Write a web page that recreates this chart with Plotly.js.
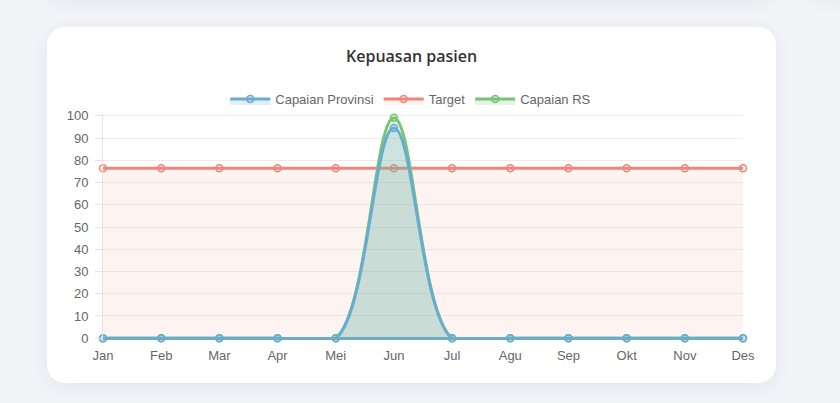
<!DOCTYPE html>
<html>
<head>
<meta charset="utf-8">
<script src="https://cdn.plot.ly/plotly-3.0.1.min.js"></script>
<style>
  html, body { margin: 0; padding: 0; background: #f3f4f8; }
  body { width: 840px; height: 403px; position: relative; overflow: hidden; }
  .card { position: absolute; background: #fff; border-radius: 18px;
          box-shadow: 0 4px 18px rgba(40, 50, 90, 0.08); }
  #myDiv { position: absolute; left: 0; top: 0; width: 840px; height: 403px; }
</style>
</head>
<body>
<div class="card" style="left:47px; top:-120px; width:729px; height:118px;"></div>
<div class="card" style="left:808px; top:-120px; width:300px; height:116px;"></div>
<div class="card" style="left:47px; top:27px; width:729px; height:356px;"></div>
<div id="myDiv"></div>
<script>
// bulan (label sumbu x)
var bulan = ['Jan', 'Feb', 'Mar', 'Apr', 'Mei', 'Jun', 'Jul', 'Agu', 'Sep', 'Okt', 'Nov', 'Des'];

// nilai tiap seri
var capaianProvinsi = [0, 0, 0, 0, 0, 94.6, 0, 0, 0, 0, 0, 0];
var target = [76.5, 76.5, 76.5, 76.5, 76.5, 76.5, 76.5, 76.5, 76.5, 76.5, 76.5, 76.5];
var capaianRS = [0, 0, 0, 0, 0, 99.2, 0, 0, 0, 0, 0, 0];

var biru = 'rgb(104,172,208)';

function garis(nama, y, warna, isi, urutan) {
    return {
        type: 'scatter',
        mode: 'lines+markers',
        name: nama,
        x: bulan,
        y: y,
        fill: 'tozeroy',
        fillcolor: isi,
        line: {color: warna, width: 3, shape: 'spline', smoothing: 1},
        marker: {size: 7, color: isi, line: {color: warna, width: 1.5}},
        cliponaxis: false,
        legendrank: urutan
    };
}

var data = [
    garis('Target', target, 'rgb(240,133,122)', 'rgba(240,133,122,0.1)', 2),
    garis('Capaian RS', capaianRS, 'rgb(118,196,118)', 'rgba(118,196,118,0.2)', 3),
    garis('Capaian Provinsi', capaianProvinsi, biru, 'rgba(104,172,208,0.2)', 1)
];

var layout = {
    width: 840,
    height: 403,
    paper_bgcolor: 'rgba(0,0,0,0)',
    plot_bgcolor: 'rgba(0,0,0,0)',
    font: {family: 'Liberation Sans, Arial, sans-serif', size: 13, color: '#666'},
    margin: {l: 103, r: 97, t: 113, b: 63},
    title: {
        text: 'Kepuasan pasien',
        font: {family: 'Open Sans, sans-serif', size: 16, color: '#333', weight: 600},
        xref: 'container', x: 0.49,
        yref: 'container', y: 0.861, yanchor: 'middle'
    },
    showlegend: true,
    legend: {
        orientation: 'h',
        xref: 'container', x: 0.489, xanchor: 'center',
        yref: 'container', y: 0.754, yanchor: 'middle',
        itemwidth: 40,
        font: {size: 13, color: '#666'},
        traceorder: 'normal'
    },
    xaxis: {
        type: 'category',
        range: [0, 11],
        showgrid: false,
        zeroline: false,
        showline: false,
        ticks: '',
        ticklabelstandoff: 6,
        fixedrange: true
    },
    yaxis: {
        range: [-0.8, 100.8],
        tickvals: [0, 10, 20, 30, 40, 50, 60, 70, 80, 90, 100],
        gridcolor: '#ececec',
        gridwidth: 1,
        // garis nol dibuat biru supaya garis datar di 0 tidak terputus oleh spline
        zeroline: true,
        zerolinecolor: biru,
        zerolinewidth: 3,
        showline: true,
        linecolor: '#e4e4e4',
        ticks: 'outside',
        ticklen: 7,
        tickcolor: '#e4e4e4',
        ticklabelstandoff: 4,
        fixedrange: true
    }
};

Plotly.newPlot('myDiv', data, layout, {displayModeBar: false, staticPlot: true});
</script>
</body>
</html>
